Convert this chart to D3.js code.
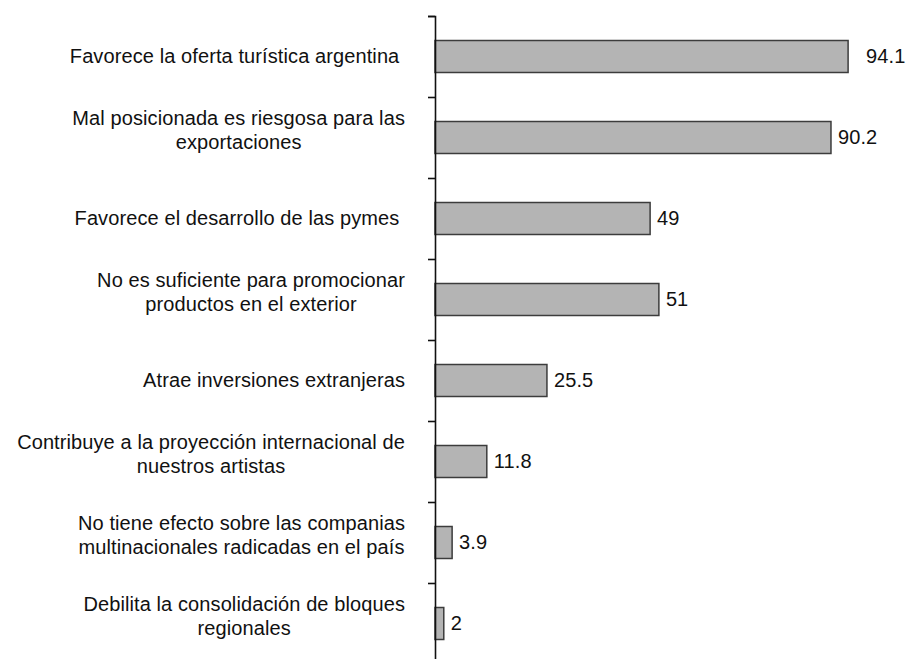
<!DOCTYPE html>
<html>
<head>
<meta charset="utf-8">
<script src="https://cdn.jsdelivr.net/npm/d3@7/dist/d3.min.js"></script>
<style>
  html, body { margin: 0; padding: 0; background: #fff; }
  svg { display: block; }
  text { font-family: "Liberation Sans", Arial, sans-serif; fill: #111; white-space: pre; }
</style>
</head>
<body>
<svg id="chart" width="906" height="659"></svg>
<script>
// Survey statements (line breaks as they wrap in the label column)
const categories = [
  "Favorece la oferta turística argentina ",
  "Mal posicionada es riesgosa para las\nexportaciones",
  "Favorece el desarrollo de las pymes ",
  "No es suficiente para promocionar\nproductos en el exterior",
  "Atrae inversiones extranjeras",
  "Contribuye a la proyección internacional de\nnuestros artistas",
  "No tiene efecto sobre las companias\nmultinacionales radicadas en el país",
  "Debilita la consolidación de bloques\nregionales"
];
// Percentage of respondents
const values = [94.1, 90.2, 49, 51, 25.5, 11.8, 3.9, 2];
const valueLabels = ["94.1", "90.2", "49", "51", "25.5", "11.8", "3.9", "2"];

(function draw() {
  const svg = d3.select("#chart");
  const axisX = 435, plotTop = 16, bandH = 81;
  const fontSize = 20, spacing = 0.1;

  const y = d3.scaleBand()
    .domain(categories)
    .range([plotTop, plotTop + bandH * categories.length])
    .paddingInner(0).paddingOuter(0);

  const x = d3.scaleLinear().domain([0, 100]).range([axisX, axisX + 439]);

  const barH = 32;

  // Bars
  svg.append("g").selectAll("rect")
    .data(values)
    .join("rect")
    .attr("x", x(0))
    .attr("y", (d, i) => y(categories[i]) + y.bandwidth() / 2 - barH / 2)
    .attr("width", d => x(d) - x(0))
    .attr("height", barH)
    .attr("fill", "#b4b4b4")
    .attr("stroke", "#3c3c3c")
    .attr("stroke-width", 1.5);

  // Value labels at the end of each bar
  svg.append("g").selectAll("text")
    .data(values)
    .join("text")
    .attr("x", (d, i) => x(d) + 7 + (i === 0 ? 11 : 0))
    .attr("y", (d, i) => y(categories[i]) + y.bandwidth() / 2 + 6)
    .attr("font-size", fontSize)
    .attr("letter-spacing", spacing)
    .text((d, i) => valueLabels[i]);

  // Category axis: tick marks sit on band boundaries
  const edge = d3.scaleLinear()
    .domain([0, categories.length])
    .range([plotTop, plotTop + bandH * categories.length]);
  const axisG = svg.append("g")
    .attr("transform", `translate(${axisX},0)`)
    .call(d3.axisLeft(edge)
      .tickValues(d3.range(categories.length + 1))
      .tickSize(7)
      .tickSizeOuter(7)
      .tickFormat(""));
  axisG.select(".domain").attr("stroke", "#111").attr("stroke-width", 1.6);
  axisG.selectAll(".tick line").attr("stroke", "#111").attr("stroke-width", 1.6);

  // Category labels: block right-aligned, lines centred inside the block
  const labelRight = 405, lineH = 24;
  const labels = svg.append("g");
  categories.forEach((c, i) => {
    const lines = c.split("\n");
    const cy = y(c) + y.bandwidth() / 2;
    const g = labels.append("g");
    const nodes = lines.map((ln, k) => g.append("text")
      .attr("font-size", fontSize)
      .attr("letter-spacing", spacing)
      .attr("y", cy + (k - (lines.length - 1) / 2) * lineH + (lines.length > 1 ? -1 : 6))
      .text(ln));
    const widths = nodes.map(n => n.node().getComputedTextLength());
    const w = d3.max(widths);
    const centre = labelRight - w / 2;
    nodes.forEach((n, k) => n.attr("x", centre - widths[k] / 2));
  });
})();
</script>
</body>
</html>
